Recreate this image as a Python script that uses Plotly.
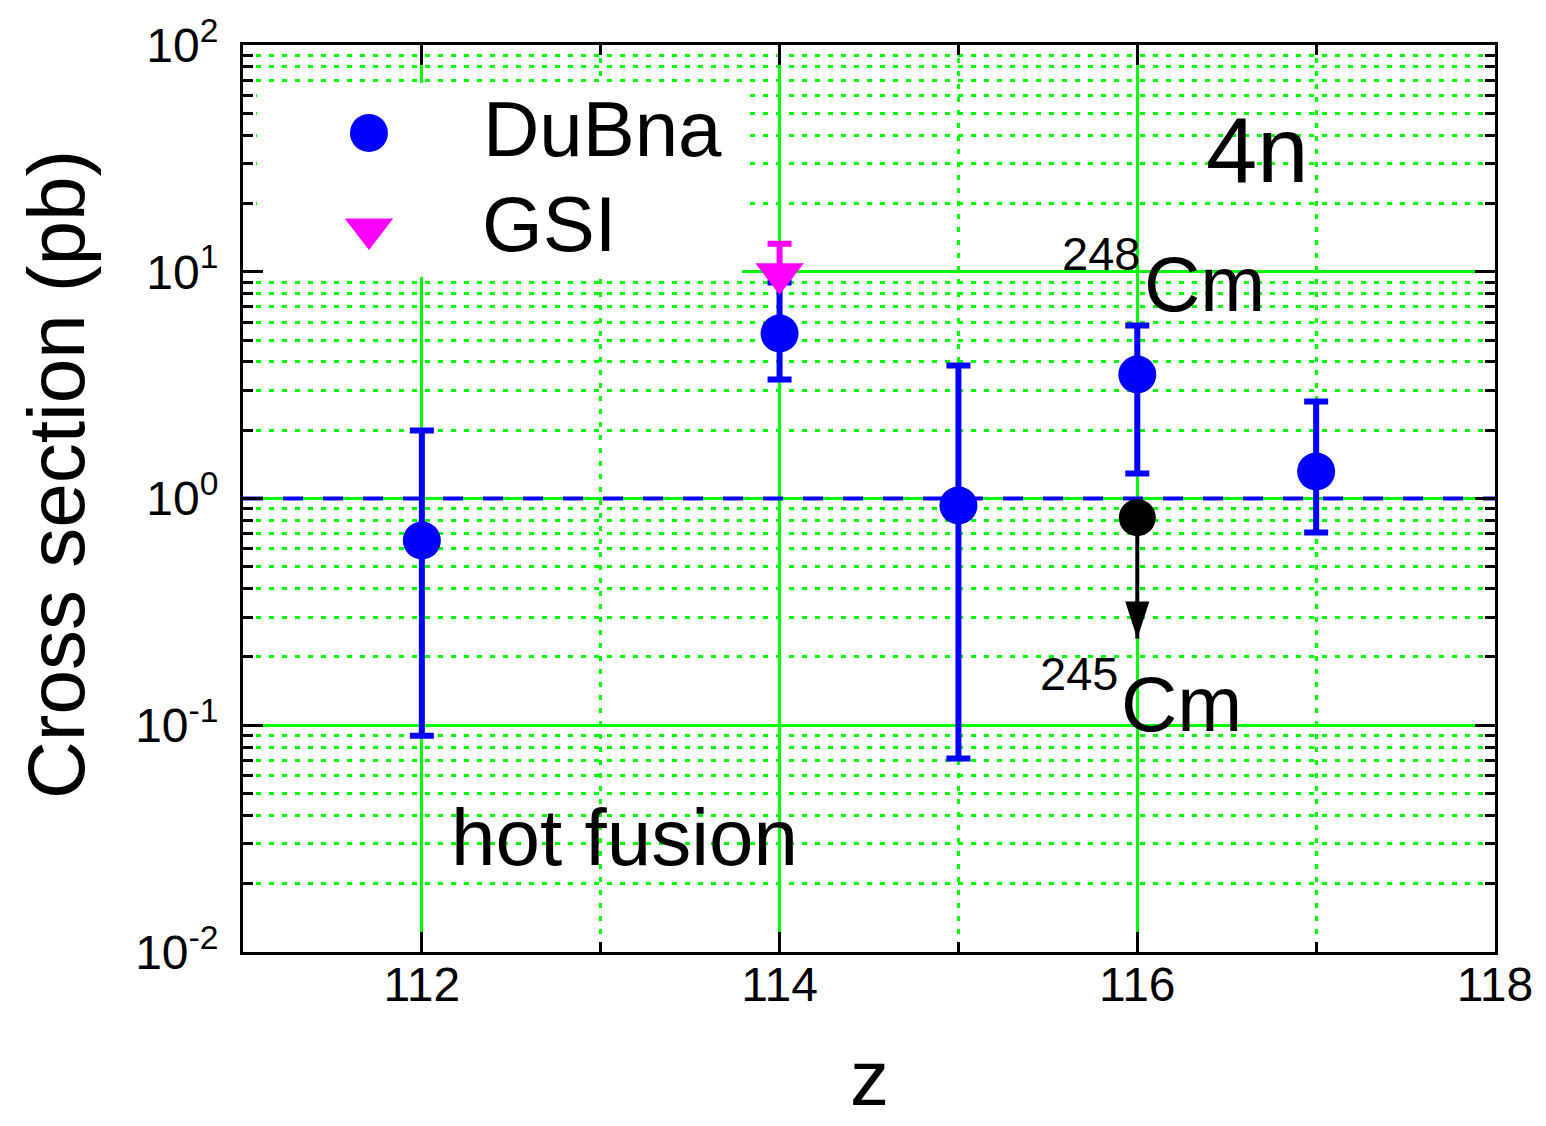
import plotly.graph_objects as go

# ---------------- data ----------------
z_dubna = [112, 114, 115, 116, 117]
sigma_dubna = [0.653, 5.34, 0.931, 3.52, 1.315]
sigma_dubna_hi = [1.995, 8.96, 3.86, 5.79, 2.68]
sigma_dubna_lo = [0.090, 3.35, 0.0714, 1.29, 0.708]

z_gsi = [114]
sigma_gsi = [9.8]
sigma_gsi_hi = [13.3]
sigma_gsi_lo = [9.8]          # lower bar hidden behind the marker

# 245Cm point with downward arrow (upper limit): point, arrow tip
z_cm245 = [116, 116]
sigma_cm245 = [0.824, 0.241]

ref_level = [1.0]

x_ticks = [112, 114, 116, 118]
x_tick_labels = ["112", "114", "116", "118"]
x_minor_ticks = [113, 115, 117]
y_ticks = [0.01, 0.1, 1, 10, 100]
y_tick_labels = ["10<sup>-2</sup>", "10<sup>-1</sup>", "10<sup>0</sup>",
                 "10<sup>1</sup>", "10<sup>2</sup>"]
y_minor_mantissas = [2, 3, 4, 5, 6, 7, 8, 9]
y_minor_decades = [0.01, 0.1, 1, 10]

legend_names = ["DuBna", "GSI"]

# ---------------- styling ----------------
FONT = "Liberation Sans, Arial, Helvetica, sans-serif"
GREEN = "#00ff00"
BLUE = "#0000ff"
MAGENTA = "#ff00ff"

y_minor_ticks = [m * d for d in y_minor_decades for m in y_minor_mantissas]

d_plus = [h - c for h, c in zip(sigma_dubna_hi, sigma_dubna)]
d_minus = [c - l for c, l in zip(sigma_dubna, sigma_dubna_lo)]
g_plus = [h - c for h, c in zip(sigma_gsi_hi, sigma_gsi)]
g_minus = [c - l for c, l in zip(sigma_gsi, sigma_gsi_lo)]

fig = go.Figure()

fig.add_trace(go.Scatter(
    x=z_dubna, y=sigma_dubna, mode="markers", name=legend_names[0],
    marker=dict(symbol="circle", size=38, color=BLUE, line=dict(width=0)),
    error_y=dict(type="data", symmetric=False, array=d_plus, arrayminus=d_minus,
                 color=BLUE, thickness=6, width=12),
    showlegend=False))

fig.add_trace(go.Scatter(
    x=z_gsi, y=sigma_gsi, mode="markers", name=legend_names[1],
    marker=dict(symbol="triangle-down", size=42, color=MAGENTA, line=dict(width=0)),
    error_y=dict(type="data", symmetric=False, array=g_plus, arrayminus=g_minus,
                 color=MAGENTA, thickness=6, width=12),
    showlegend=False))

fig.add_trace(go.Scatter(
    x=z_cm245, y=sigma_cm245, mode="lines+markers",
    line=dict(color="black", width=4),
    marker=dict(symbol=["circle", "arrow"], size=[37, 39], angle=[0, 180],
                color="black", opacity=1, line=dict(width=0)),
    showlegend=False))

# legend keys drawn on an overlay axis pair spanning [0,1] x [0,1]
fig.add_trace(go.Scatter(
    x=[0.1006], y=[0.903], xaxis="x2", yaxis="y2", mode="markers",
    marker=dict(symbol="circle", size=38, color=BLUE, line=dict(width=0)),
    showlegend=False, hoverinfo="skip"))
fig.add_trace(go.Scatter(
    x=[0.1006], y=[0.797], xaxis="x2", yaxis="y2", mode="markers",
    marker=dict(symbol="triangle-down", size=42, color=MAGENTA, line=dict(width=0)),
    showlegend=False, hoverinfo="skip"))

axis_common = dict(
    ticks="inside", ticklen=20, tickwidth=3, tickcolor="black",
    showline=True, linewidth=3, linecolor="black", mirror="allticks",
    showgrid=True, gridcolor=GREEN, gridwidth=2.5, zeroline=False,
    automargin=False,
    tickfont=dict(family=FONT, size=48, color="black"),
)
minor_common = dict(tickmode="array", ticks="inside", ticklen=10, tickwidth=3,
                    tickcolor="black", showgrid=True, gridcolor=GREEN,
                    gridwidth=3, griddash="5px,8px")

fig.update_layout(
    width=1530, height=1118,
    margin=dict(l=235, r=43, t=37, b=174),
    paper_bgcolor="white", plot_bgcolor="white",
    font=dict(family=FONT, color="black"),
    showlegend=False,
    xaxis=dict(range=[111, 118], tickmode="array", tickvals=x_ticks,
               ticktext=x_tick_labels, ticklabelstandoff=-12,
               minor=dict(tickvals=x_minor_ticks, **minor_common),
               **axis_common),
    yaxis=dict(type="log", range=[-2, 2], tickmode="array", tickvals=y_ticks,
               ticktext=y_tick_labels, ticklabelstandoff=12,
               minor=dict(tickvals=y_minor_ticks, **minor_common),
               **axis_common),
    xaxis2=dict(overlaying="x", range=[0, 1], visible=False, automargin=False),
    yaxis2=dict(overlaying="y", range=[0, 1], visible=False, automargin=False),
)

# white legend box (above grid, below data)
fig.add_shape(type="rect", xref="x", yref="y",
              x0=111.078, x1=113.79, y0=9.48, y1=68.0,
              fillcolor="white", line=dict(width=0), layer="between")

# dashed reference line at 1 pb
fig.add_shape(type="line", xref="x", yref="y",
              x0=111, x1=118, y0=ref_level[0], y1=ref_level[0],
              line=dict(color=BLUE, width=4, dash="20px,20px"), layer="between")

def txt(text, x, y, size, xanchor="center", yanchor="middle", angle=0):
    fig.add_annotation(text=text, x=x, y=y, xref="paper", yref="paper",
                       xanchor=xanchor, yanchor=yanchor, showarrow=False,
                       textangle=angle,
                       font=dict(family=FONT, size=size, color="black"))

txt(legend_names[0], 0.2871, 0.9074, 78)
txt(legend_names[1], 0.2444, 0.8026, 78)
txt("4n", 0.8099, 0.8842, 92)
txt("248", 0.6857, 0.7696, 47)
txt("Cm", 0.7680, 0.7370, 78)
txt("245", 0.6681, 0.3070, 47)
txt("Cm", 0.7496, 0.2734, 78)
txt("hot fusion", 0.3051, 0.1257, 80)
txt("Cross section (pb)", -0.1494, 0.527, 80, angle=-90)
txt("z", 0.5, -0.1896, 78, yanchor="bottom")

fig.write_html("out.html")
